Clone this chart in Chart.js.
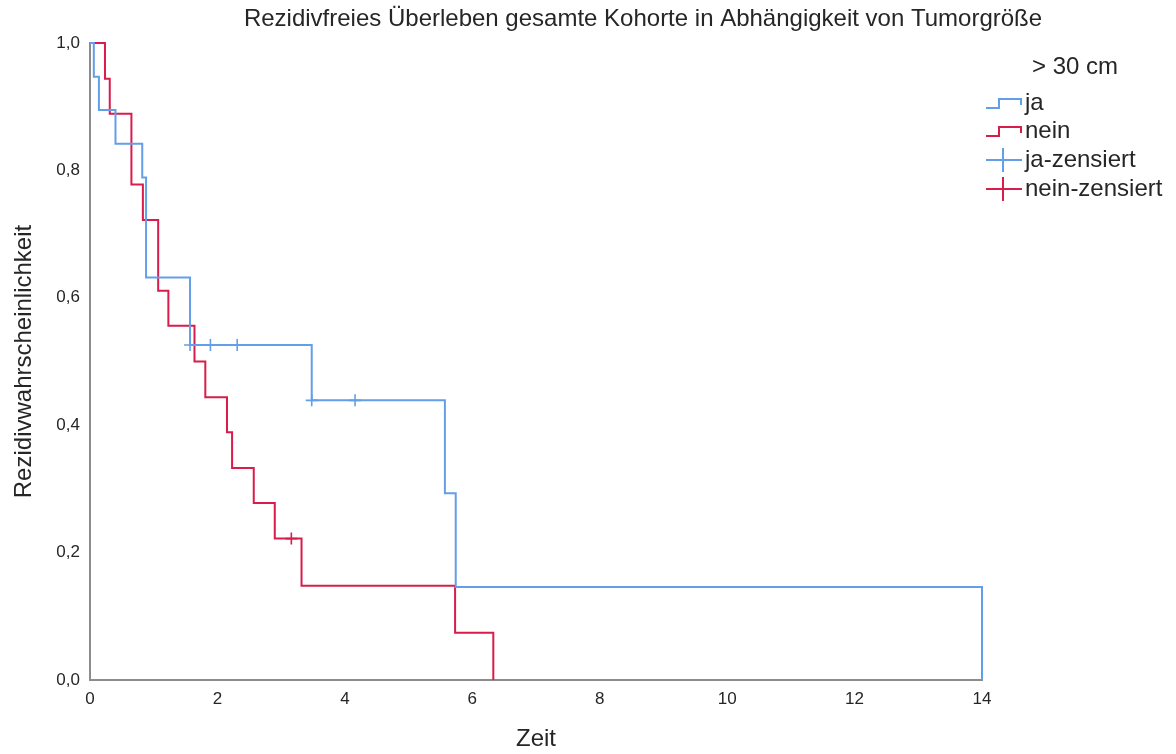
<!DOCTYPE html>
<html lang="de">
<head>
<meta charset="utf-8">
<title>Rezidivfreies Überleben</title>
<script src="https://cdn.jsdelivr.net/npm/chart.js@4.4.1/dist/chart.umd.min.js"></script>
<style>
  html, body { margin: 0; padding: 0; background: #ffffff; }
  #wrap { width: 1176px; height: 754px; position: relative; }
</style>
</head>
<body>
<div id="wrap"><canvas id="km" width="1176" height="754"></canvas></div>
<script>
// Kaplan-Meier-Schätzer, Gruppe "ja" (> 30 cm)
const jaZeit = [0, 0.06, 0.14, 0.40, 0.82, 0.88, 1.57, 3.48, 5.57, 5.74, 14];
const jaUeberleben = [1, 0.947, 0.895, 0.842, 0.789, 0.632, 0.526, 0.439, 0.293, 0.146, 0];

// Kaplan-Meier-Schätzer, Gruppe "nein"
const neinZeit = [0, 0.235, 0.31, 0.65, 0.83, 1.07, 1.23, 1.64, 1.81, 2.15, 2.23, 2.57, 2.90, 3.32, 5.73, 6.33];
const neinUeberleben = [1, 0.944, 0.889, 0.778, 0.722, 0.611, 0.556, 0.5, 0.444, 0.389, 0.333, 0.278, 0.222, 0.148, 0.074, 0];

// Zensierte Beobachtungen
const jaZensiertZeit = [1.57, 1.89, 2.31, 3.48, 4.16];
const jaZensiertWert = [0.526, 0.526, 0.526, 0.439, 0.439];
const neinZensiertZeit = [3.16];
const neinZensiertWert = [0.222];

// Achsen und Beschriftungen
const xTicks = [0, 2, 4, 6, 8, 10, 12, 14];
const yTicks = [0, 0.2, 0.4, 0.6, 0.8, 1.0];
const titelText = 'Rezidivfreies Überleben gesamte Kohorte in Abhängigkeit von Tumorgröße';
const legendenTitel = '> 30 cm';
const legendenEintraege = ['ja', 'nein', 'ja-zensiert', 'nein-zensiert'];

const BLAU = '#639fe8';
const ROT = '#d81c4c';
const TEXT = '#262626';
const ACHSE = '#8c8c8c';
const SCHRIFT = '"Liberation Sans", Arial, sans-serif';

const punkte = (xs, ys) => xs.map((x, i) => ({ x: x, y: ys[i] }));

// Titel und Legende werden oberhalb bzw. rechts der Zeichenfläche gesetzt
const rahmenPlugin = {
  id: 'rahmen',
  afterDraw(chart) {
    const ctx = chart.ctx;
    ctx.save();
    ctx.fillStyle = TEXT;
    ctx.textBaseline = 'middle';
    ctx.textAlign = 'center';
    ctx.font = '24px ' + SCHRIFT;
    ctx.fillText(titelText, 643, 19);

    ctx.textAlign = 'left';
    ctx.fillText(legendenTitel, 1032, 67);

    const zeilen = [103, 131, 160, 189];
    const farben = [BLAU, ROT, BLAU, ROT];
    legendenEintraege.forEach((txt, i) => {
      const cy = zeilen[i];
      ctx.strokeStyle = farben[i];
      ctx.lineWidth = 2;
      ctx.beginPath();
      if (i < 2) {
        ctx.moveTo(986, cy + 5);
        ctx.lineTo(999, cy + 5);
        ctx.lineTo(999, cy - 4);
        ctx.lineTo(1021, cy - 4);
        ctx.lineTo(1021, cy + 2);
      } else {
        ctx.moveTo(986, cy);
        ctx.lineTo(1022, cy);
        ctx.moveTo(1003, cy - 12);
        ctx.lineTo(1003, cy + 12);
      }
      ctx.stroke();
      ctx.fillStyle = TEXT;
      ctx.fillText(txt, 1025, cy);
    });
    ctx.restore();
  }
};

new Chart(document.getElementById('km'), {
  type: 'line',
  data: {
    datasets: [
      {
        label: 'ja',
        data: punkte(jaZeit, jaUeberleben),
        borderColor: BLAU,
        borderWidth: 2,
        stepped: true,
        pointRadius: 0,
        fill: false,
        clip: 4
      },
      {
        label: 'nein',
        data: punkte(neinZeit, neinUeberleben),
        borderColor: ROT,
        borderWidth: 2,
        stepped: true,
        pointRadius: 0,
        fill: false,
        clip: 4
      },
      {
        label: 'ja-zensiert',
        type: 'scatter',
        data: punkte(jaZensiertZeit, jaZensiertWert),
        borderColor: BLAU,
        pointStyle: 'cross',
        pointRadius: 6,
        pointBorderWidth: 1.6,
        showLine: false
      },
      {
        label: 'nein-zensiert',
        type: 'scatter',
        data: punkte(neinZensiertZeit, neinZensiertWert),
        borderColor: ROT,
        pointStyle: 'cross',
        pointRadius: 6,
        pointBorderWidth: 1.6,
        showLine: false
      }
    ]
  },
  options: {
    responsive: false,
    animation: false,
    events: [],
    layout: { padding: { top: 43, right: 194, left: 0, bottom: 0 } },
    plugins: {
      legend: { display: false },
      title: { display: false },
      tooltip: { enabled: false }
    },
    scales: {
      x: {
        type: 'linear',
        min: 0,
        max: 14,
        afterFit: (s) => { s.height = 74; },
        afterBuildTicks: (s) => { s.ticks = xTicks.map(v => ({ value: v })); },
        grid: { display: true, drawOnChartArea: false, drawTicks: false, color: 'rgba(0,0,0,0)' },
        border: { display: true, color: ACHSE, width: 2 },
        ticks: {
          color: TEXT,
          font: { family: SCHRIFT, size: 17 },
          padding: 9,
          maxRotation: 0,
          callback: (v) => String(v)
        },
        title: {
          display: true,
          text: 'Zeit',
          color: TEXT,
          font: { family: SCHRIFT, size: 24 },
          padding: { top: 0, bottom: 0 }
        }
      },
      y: {
        type: 'linear',
        min: 0,
        max: 1,
        afterFit: (s) => { s.width = 90; },
        afterBuildTicks: (s) => { s.ticks = yTicks.map(v => ({ value: v })); },
        grid: { display: true, drawOnChartArea: false, drawTicks: false, color: 'rgba(0,0,0,0)' },
        border: { display: true, color: ACHSE, width: 2 },
        ticks: {
          color: TEXT,
          font: { family: SCHRIFT, size: 17 },
          padding: 10,
          callback: (v) => v.toFixed(1).replace('.', ',')
        },
        title: {
          display: true,
          text: 'Rezidivwahrscheinlichkeit',
          color: TEXT,
          font: { family: SCHRIFT, size: 24 },
          padding: { top: 10, bottom: 0 }
        }
      }
    }
  },
  plugins: [rahmenPlugin]
});
</script>
</body>
</html>
